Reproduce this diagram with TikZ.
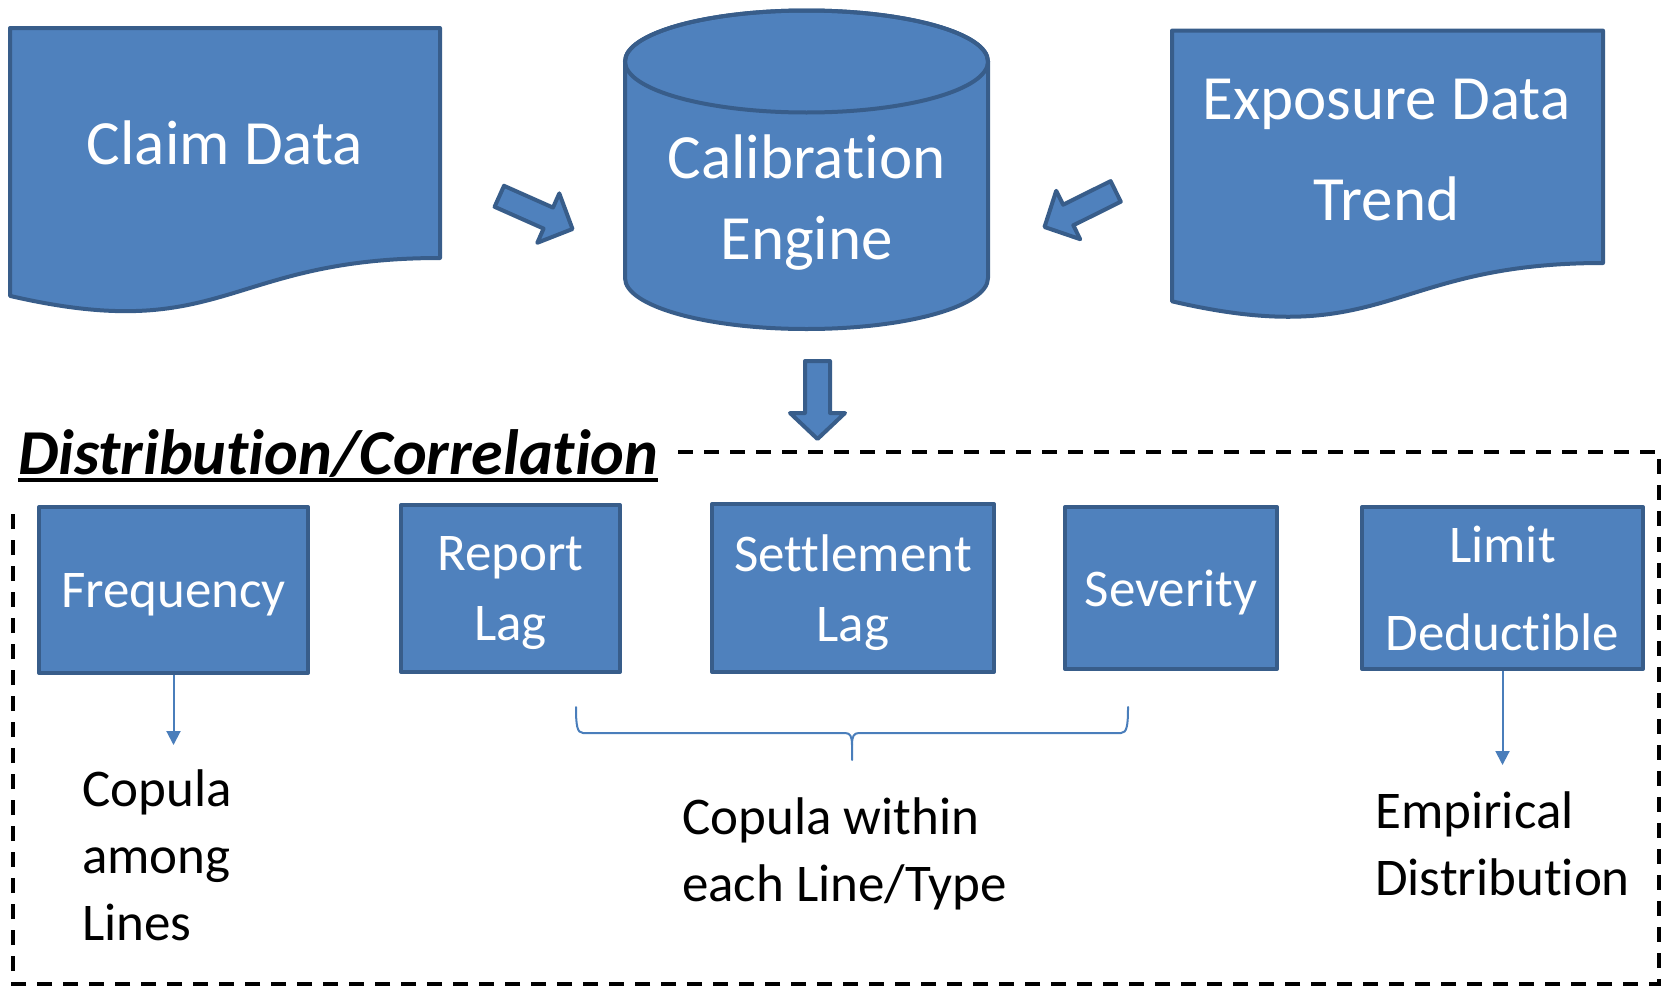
\documentclass[tikz,border=0pt]{standalone}
\usepackage{fontspec}
\setmainfont{Carlito}[Ligatures={NoCommon}]
\usetikzlibrary{arrows.meta}
\definecolor{boxfill}{HTML}{4F81BD}
\definecolor{boxline}{HTML}{385D8A}
\definecolor{connblue}{HTML}{4A7EBB}
\begin{document}
\begin{tikzpicture}[x=1pt,y=1pt,
  blockshape/.style={fill=boxfill,draw=boxline,line width=4pt,line join=round},
  smallbox/.style={blockshape,rectangle,inner sep=0pt,text=white,align=center,text depth=0pt,
    font=\fontsize{53}{70}\selectfont},
  bigtext/.style={text=white,align=center,inner sep=0pt,text depth=0pt},
  note/.style={text=black,align=left,inner sep=0pt,text depth=0pt,anchor=west,
    font=\fontsize{53}{67}\selectfont},
  connline/.style={draw=connblue,line width=2pt},
  arrowtip/.style={-{Triangle[width=14pt,length=14pt]}},
  frame/.style={draw=black,line width=3.2pt,dash pattern=on 15pt off 11pt}
]
\useasboundingbox (0,0) rectangle (1662,-988);

% Claim Data document shape
\path[blockshape] (10,-28) -- (440,-28) -- (440,-258)
  .. controls (225,-258) and (225,-345.6) .. (10,-295.9) -- cycle;
\node[bigtext,font=\fontsize{63}{81}\selectfont] (claim) at (225,-143) {Claim Data};

% Calibration Engine cylinder
\path[blockshape] (625,-61.5) -- (625,-278)
  arc[start angle=180,end angle=360,x radius=181.5,y radius=51]
  -- (988,-61.5)
  arc[start angle=0,end angle=180,x radius=181.5,y radius=51] -- cycle;
\draw[draw=boxline,line width=4pt] (806.5,-61.5) ellipse[x radius=181.5,y radius=51];
\node[bigtext,font=\fontsize{63}{81}\selectfont] (engine) at (806.5,-197) {Calibration\\Engine};

% Exposure Data document shape
\path[blockshape] (1172,-30.6) -- (1603,-30.6) -- (1603,-263)
  .. controls (1387.5,-263) and (1387.5,-351.6) .. (1172,-301.3) -- cycle;
\node[bigtext,font=\fontsize{63}{101}\selectfont] (expo) at (1386.5,-149.5) {Exposure Data\\Trend};

% block arrows
\path[blockshape] (504.0,-185.8) -- (553.0,-207.6) -- (559.3,-193.4) -- (572.5,-229)
  -- (537.3,-242.8) -- (543.6,-228.6) -- (494.6,-206.8) -- cycle;
\path[blockshape] (1110.6,-181.1) -- (1063.1,-204.7) -- (1056.2,-190.8) -- (1044.5,-227)
  -- (1080.2,-239.2) -- (1073.3,-225.3) -- (1120.8,-201.7) -- cycle;
\path[blockshape] (805,-361) -- (830,-361) -- (830,-413) -- (845,-413) -- (817.5,-439)
  -- (790,-413) -- (805,-413) -- cycle;

% title
\node[anchor=base west,inner sep=0pt,font=\fontsize{64}{70}\selectfont\bfseries\itshape] (title) at (18,-474) {Distribution/Correlation};
\draw[line width=3.5pt] ([yshift=-6pt]title.base west) -- ([yshift=-6pt]title.base east);

% dashed frame
\draw[frame] (678,-452) -- (1659,-452) -- (1659,-984) -- (13,-984) -- (13,-507);

% boxes
\node[smallbox,minimum width=269pt,minimum height=166pt] (freq) at (173.5,-590) {Frequency};
\node[smallbox,minimum width=219pt,minimum height=167pt] (report) at (510.5,-588.5) {Report\\Lag};
\node[smallbox,minimum width=282pt,minimum height=168pt] (settle) at (853,-588) {Settlement\\Lag};
\node[smallbox,minimum width=212pt,minimum height=162pt] (sev) at (1171,-588) {Severity};
\node[smallbox,minimum width=281pt,minimum height=162pt,font=\fontsize{53}{88}\selectfont] (limit) at (1502.5,-588) {Limit\\Deductible};

% arrows down
\coordinate (fa) at (173.5,-745);
\draw[connline,arrowtip] (freq.south) -- (fa);
\coordinate (la) at (1502.5,-765);
\draw[connline,arrowtip] (limit.south) -- (la);

% brace
\draw[connline,line cap=round] (576,-707) .. controls (576,-725) and (577,-733) .. (583,-733)
  -- (845,-733) .. controls (850,-733) and (852,-736) .. (852,-745) -- (852,-760);
\draw[connline,line cap=round] (852,-745) .. controls (852,-736) and (854,-733) .. (859,-733)
  -- (1121,-733) .. controls (1127,-733) and (1128,-725) .. (1128,-707);

% notes
\node[note] (copA) at (82,-854.7) {Copula\\among\\Lines};
\node[note] (copB) at (682,-849.2) {Copula within\\each Line/Type};
\node[note] (emp) at (1375,-843.2) {Empirical\\Distribution};
\end{tikzpicture}
\end{document}
